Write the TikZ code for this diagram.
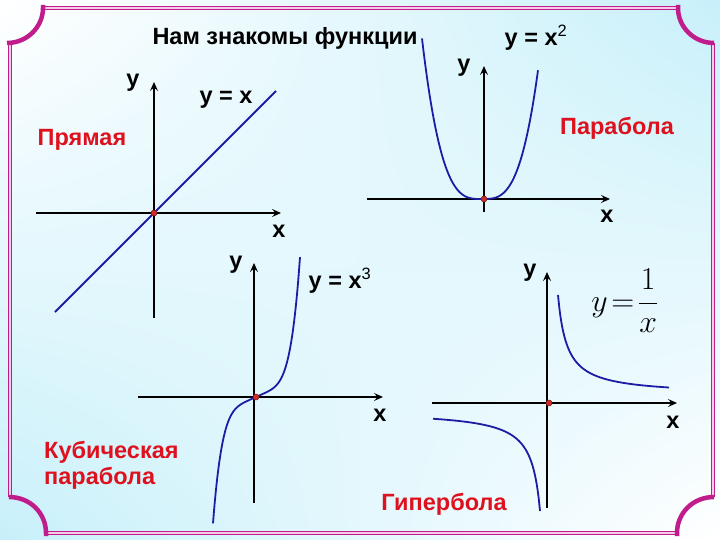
\documentclass[tikz,border=0pt]{standalone}
\usepackage{amsmath}
\usepackage{fontspec}
\setmainfont{Liberation Sans}
\usetikzlibrary{arrows.meta, positioning, shadings}
\definecolor{framemag}{RGB}{192,28,140}
\definecolor{framepink}{RGB}{245,205,232}
\definecolor{bgcyan}{RGB}{200,240,250}
\definecolor{curveblue}{RGB}{28,28,165}
\definecolor{labred}{RGB}{222,18,30}
\definecolor{dotred}{RGB}{205,45,40}

\begin{document}
\begin{tikzpicture}[
    x=1pt, y=-1pt,
    lab/.style={font=\bfseries\fontsize{23.5}{26}\selectfont,inner sep=0pt},
    fname/.style={lab,text=labred,align=left},
    axis/.style={line width=1.8pt,-{Stealth[length=9pt,width=8pt,inset=3.5pt]}},
    curve/.style={curveblue,line width=1.8pt},
    dot/.style={circle,fill=dotred,draw=dotred!60!black,line width=0.5pt,
                inner sep=0pt,minimum size=6pt},
    edge/.style={draw=framemag,line width=1pt,double=framepink,double distance=2.4pt},
    corner/.style={draw=framemag,line width=4.5pt}
]
  \useasboundingbox (0,0) rectangle (720,540);
  % background
  \shade[upper left=white,upper right=bgcyan,lower left=bgcyan,lower right=white]
    (0,0) rectangle (720,540);

  % frame
  \draw[edge] (43,8) -- (678,8);
  \draw[edge] (713,43) -- (713,497);
  \draw[edge] (46,533) -- (677,533);
  \draw[edge] (10,43) -- (10,497);
  \draw[corner] (43,5) -- (43,8) .. controls (43,27) and (27,43) .. (7,43);
  \draw[corner] (678,5) -- (678,8) .. controls (678,27) and (694,43) .. (714,43);
  \draw[corner] (714,497) .. controls (693,497) and (677,513) .. (677,533) -- (677,536);
  \draw[corner] (9,497) .. controls (30,497) and (46,513) .. (46,533) -- (46,536);

  \node[lab] (title) at (285,38) {Нам знакомы функции};

  % y = x
  \coordinate (xl1) at (36,213);  \coordinate (xr1) at (281,213);
  \coordinate (yb1) at (154,318); \coordinate (yt1) at (154,82);
  \coordinate (ls1) at (55,312);  \coordinate (le1) at (276,91);
  \draw[axis] (xl1) -- (xr1);
  \draw[axis] (yb1) -- (yt1);
  \draw[curve] (ls1) -- (le1);
  \node[dot] (d1) at (154,213) {};
  \node[lab] (ly1) at (133,83) {y};
  \node[lab] (lx1) at (279,231) {x};
  \node[lab] (f1) at (226,100) {y = x};
  \node[fname] (n1) at (82,140) {Прямая};

  % y = x^2
  \coordinate (xl2) at (367,199); \coordinate (xr2) at (610,199);
  \coordinate (yb2) at (484,212); \coordinate (yt2) at (484,66);
  \draw[axis] (xl2) -- (xr2);
  \draw[axis] (yb2) -- (yt2);
  \draw[curve] plot[domain=-60:56,samples=81,smooth]
    ({482+\x},{199-144*pow(abs(\x)/58+0.0001,3.2)});
  \node[dot] (d2) at (484,199) {};
  \node[lab] (ly2) at (464,68) {y};
  \node[lab] (lx2) at (607,216) {x};
  \node[lab] (f2) at (536,38) {y = x\textsuperscript{\mdseries 2}};
  \node[fname] (n2) at (617,128) {Парабола};

  % y = x^3
  \coordinate (xl3) at (138,397); \coordinate (xr3) at (383,397);
  \coordinate (yb3) at (254,503); \coordinate (yt3) at (254,263);
  \draw[axis] (xl3) -- (xr3);
  \draw[axis] (yb3) -- (yt3);
  \draw[curve] plot[domain=-43:44,samples=90,smooth]
    ({256+\x},{397-0.45*\x-120*pow(\x/44,5)});
  \node[dot] (d3) at (256,397) {};
  \node[lab] (ly3) at (236,265) {y};
  \node[lab] (lx3) at (380,415) {x};
  \node[lab] (f3) at (340,281) {y = x\textsuperscript{\mdseries 3}};
  \node[fname,anchor=west] (n3) at (44,465) {Кубическая\\парабола};

  % y = 1/x
  \coordinate (xl4) at (432,403); \coordinate (xr4) at (677,403);
  \coordinate (yb4) at (547,508); \coordinate (yt4) at (547,272);
  \draw[axis] (xl4) -- (xr4);
  \draw[axis] (yb4) -- (yt4);
  \draw[curve] plot[domain=9:120,samples=80,smooth] ({549+\x},{403-900/\x-8});
  \draw[curve] plot[domain=-116:-9,samples=80,smooth] ({549+\x},{403-900/\x+8});
  \node[dot] (d4) at (549,403) {};
  \node[lab] (ly4) at (530,273) {y};
  \node[lab] (lx4) at (673,422) {x};
  \node[inner sep=0pt,scale=1.28,font=\fontsize{24.88}{28}\selectfont] (f4) at (625,301)
    {$y\!=\!\dfrac{1}{x}$};
  \node[fname] (n4) at (444,504) {Гипербола};
\end{tikzpicture}
\end{document}
